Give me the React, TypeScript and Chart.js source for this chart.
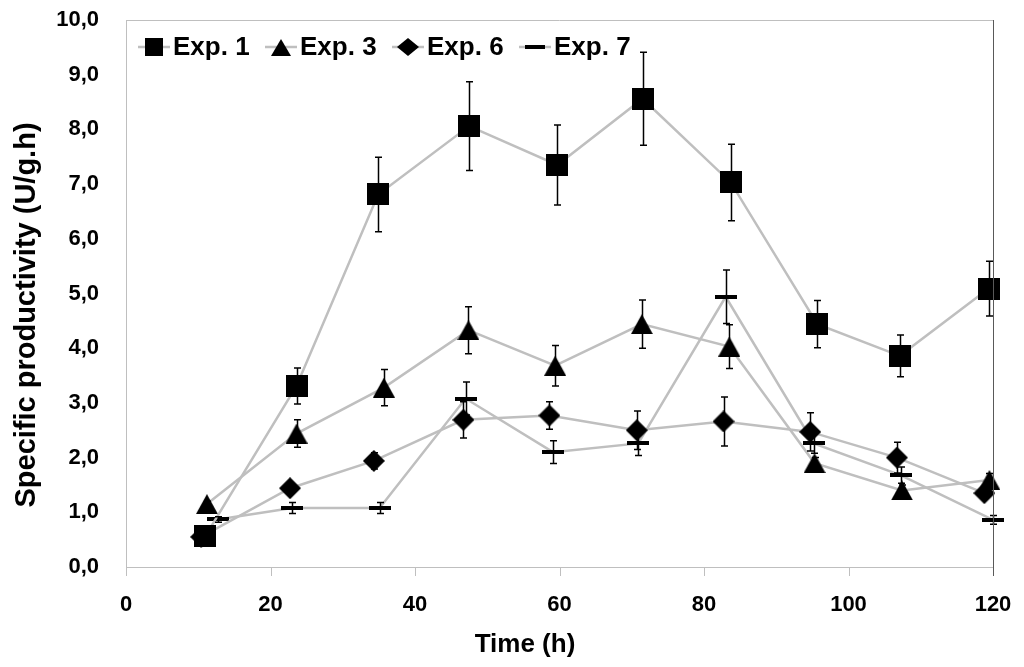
import React, { useEffect, useRef } from "react";
import { Chart, registerables } from "chart.js";

Chart.register(...registerables);

// ---- Data ----
const seriesLabels = ["Exp. 1", "Exp. 3", "Exp. 6", "Exp. 7"];

const exp1Time = [11.0, 23.6, 34.9, 47.5, 59.7, 71.5, 83.7, 95.7, 107.1, 119.4];
const exp1Values = [0.57, 3.31, 6.81, 8.06, 7.35, 8.56, 7.03, 4.44, 3.86, 5.09];
const exp1Errors = [0.05, 0.33, 0.68, 0.81, 0.73, 0.85, 0.7, 0.43, 0.38, 0.5];

const exp3Time = [11.2, 23.6, 35.7, 47.4, 59.4, 71.4, 83.5, 95.3, 107.4, 119.5];
const exp3Values = [1.15, 2.44, 3.28, 4.33, 3.68, 4.44, 4.03, 1.9, 1.4, 1.59];
const exp3Errors = [0.05, 0.25, 0.33, 0.43, 0.37, 0.44, 0.4, 0.1, 0.1, 0.12];

const exp6Time = [10.4, 22.7, 34.3, 46.7, 58.6, 70.7, 82.7, 94.7, 106.7, 118.8];
const exp6Values = [0.55, 1.44, 1.94, 2.69, 2.77, 2.5, 2.66, 2.47, 2.0, 1.35];
const exp6Errors = [0.15, 0.08, 0.15, 0.33, 0.25, 0.35, 0.45, 0.35, 0.28, 0.1];

const exp7Time = [12.7, 23.0, 35.1, 47.0, 59.1, 70.9, 83.0, 95.2, 107.2, 120.0];
const exp7Values = [0.87, 1.08, 1.08, 3.08, 2.1, 2.26, 4.94, 2.26, 1.68, 0.86];
const exp7Errors = [0.05, 0.1, 0.1, 0.3, 0.21, 0.22, 0.49, 0.18, 0.15, 0.08];

const xTickMin = 0;
const xTickMax = 120;
const xTickStep = 20;
const yTickMin = 0;
const yTickMax = 10;
const yTickStep = 1;

const xTitle = "Time (h)";
const yTitle = "Specific productivity (U/g.h)";

const FONT = "'Liberation Sans', Arial, sans-serif";
const LINE_COLOR = "#bfbfbf";
const CLEAR = "rgba(0,0,0,0)";

type Kind = "square" | "triangle" | "diamond" | "dash";

function makeMarker(kind: Kind, w: number, h: number): HTMLCanvasElement {
  const c = document.createElement("canvas");
  c.width = w;
  c.height = h;
  const ctx = c.getContext("2d")!;
  ctx.fillStyle = "#000";
  ctx.beginPath();
  if (kind === "triangle") {
    ctx.moveTo(w / 2, 0);
    ctx.lineTo(w, h);
    ctx.lineTo(0, h);
    ctx.closePath();
  } else if (kind === "diamond") {
    ctx.moveTo(w / 2, 0);
    ctx.lineTo(w, h / 2);
    ctx.lineTo(w / 2, h);
    ctx.lineTo(0, h / 2);
    ctx.closePath();
  } else {
    ctx.rect(0, 0, w, h);
  }
  ctx.fill();
  return c;
}

function zip(xs: number[], ys: number[]) {
  return xs.map((x, i) => ({ x, y: ys[i] }));
}

export default function App() {
  const ref = useRef<HTMLCanvasElement | null>(null);

  useEffect(() => {
    document.body.style.margin = "0";
    const canvas = ref.current;
    if (!canvas) return;

    const markers = [
      makeMarker("square", 22, 22),
      makeMarker("triangle", 22, 20),
      makeMarker("diamond", 22, 22),
      makeMarker("dash", 22, 4),
    ];
    const legendMarkers = [
      makeMarker("square", 18, 18),
      makeMarker("triangle", 20, 17),
      makeMarker("diamond", 22, 18),
      makeMarker("dash", 20, 4),
    ];
    const legendStarts = [138, 265, 392, 519];

    const times = [exp1Time, exp3Time, exp6Time, exp7Time];
    const values = [exp1Values, exp3Values, exp6Values, exp7Values];
    const errors = [exp1Errors, exp3Errors, exp6Errors, exp7Errors];

    const datasets = seriesLabels.map((label, i) => ({
      label,
      data: zip(times[i], values[i]),
      errors: errors[i],
      showLine: true,
      borderColor: LINE_COLOR,
      borderWidth: 2.5,
      backgroundColor: "#000",
      pointStyle: markers[i],
      pointRadius: 11,
      pointHoverRadius: 11,
      clip: false as any,
      tension: 0,
    }));

    const extras = {
      id: "extras",
      afterDatasetsDraw(chart: any) {
        const ctx = chart.ctx as CanvasRenderingContext2D;
        const { left, right, top, bottom } = chart.chartArea;
        const yScale = chart.scales.y;
        const xScale = chart.scales.x;
        ctx.save();
        // error bars
        ctx.strokeStyle = "#000";
        ctx.lineWidth = 1.5;
        chart.data.datasets.forEach((ds: any, i: number) => {
          const meta = chart.getDatasetMeta(i);
          meta.data.forEach((pt: any, j: number) => {
            const v = ds.data[j].y;
            const e = ds.errors[j];
            const yT = yScale.getPixelForValue(v + e);
            const yB = yScale.getPixelForValue(v - e);
            const x = Math.round(pt.x) + 0.5;
            ctx.beginPath();
            ctx.moveTo(x, yT);
            ctx.lineTo(x, yB);
            ctx.moveTo(x - 3.5, yT);
            ctx.lineTo(x + 3.5, yT);
            ctx.moveTo(x - 3.5, yB);
            ctx.lineTo(x + 3.5, yB);
            ctx.stroke();
          });
        });
        // x tick marks
        ctx.strokeStyle = LINE_COLOR;
        ctx.lineWidth = 1;
        xScale.ticks.forEach((t: any) => {
          const px = Math.round(xScale.getPixelForValue(t.value)) + 0.5;
          ctx.beginPath();
          ctx.moveTo(px, bottom);
          ctx.lineTo(px, bottom + 9);
          ctx.stroke();
        });
        // top border
        ctx.beginPath();
        ctx.moveTo(left, Math.round(top) + 0.5);
        ctx.lineTo(right, Math.round(top) + 0.5);
        ctx.stroke();
        // right border
        ctx.strokeStyle = "#595959";
        ctx.beginPath();
        ctx.moveTo(Math.round(right) + 0.5, top);
        ctx.lineTo(Math.round(right) + 0.5, bottom + 9);
        ctx.stroke();
        ctx.restore();
      },
      afterDraw(chart: any) {
        const ctx = chart.ctx as CanvasRenderingContext2D;
        ctx.save();
        ctx.fillStyle = "#000";
        // axis titles
        ctx.textAlign = "center";
        ctx.textBaseline = "middle";
        ctx.font = `bold 26px ${FONT}`;
        ctx.fillText(xTitle, 525, 645);
        ctx.save();
        ctx.translate(27, 315);
        ctx.rotate(-Math.PI / 2);
        ctx.font = `bold 29px ${FONT}`;
        ctx.fillText(yTitle, 0, 0);
        ctx.restore();
        // legend
        ctx.font = `bold 26px ${FONT}`;
        ctx.textBaseline = "middle";
        ctx.textAlign = "left";
        const y = 47;
        chart.data.datasets.forEach((ds: any, i: number) => {
          const x = legendStarts[i];
          ctx.strokeStyle = LINE_COLOR;
          ctx.lineWidth = 2.5;
          ctx.beginPath();
          ctx.moveTo(x, y);
          ctx.lineTo(x + 32, y);
          ctx.stroke();
          const m = legendMarkers[i];
          ctx.drawImage(m, Math.round(x + 16 - m.width / 2), Math.round(y - m.height / 2));
          ctx.fillText(ds.label, x + 35, y + 1);
        });
        ctx.restore();
      },
    };

    const chart = new Chart(canvas, {
      type: "scatter",
      data: { datasets: datasets as any },
      options: {
        responsive: false,
        animation: false,
        layout: { padding: { top: 20, right: 31, left: 0, bottom: 0 } },
        plugins: {
          legend: { display: false },
          tooltip: { enabled: false },
        },
        scales: {
          x: {
            type: "linear",
            min: xTickMin,
            max: xTickMax,
            afterFit: (s: any) => {
              s.height = 100;
            },
            ticks: {
              stepSize: xTickStep,
              color: "#000",
              font: { family: FONT, size: 22, weight: "bold" },
              padding: 0,
              maxRotation: 0,
            },
            grid: {
              display: true,
              drawOnChartArea: false,
              drawTicks: true,
              tickLength: 25,
              color: CLEAR,
              tickColor: CLEAR,
            },
            border: { display: true, color: LINE_COLOR, width: 1 },
            title: { display: false },
          },
          y: {
            type: "linear",
            min: yTickMin,
            max: yTickMax,
            afterFit: (s: any) => {
              s.width = 126;
            },
            ticks: {
              stepSize: yTickStep,
              color: "#000",
              font: { family: FONT, size: 22, weight: "bold" },
              padding: 0,
              callback: (v: any) => Number(v).toFixed(1).replace(".", ","),
            },
            grid: {
              display: true,
              drawOnChartArea: false,
              drawTicks: true,
              tickLength: 27,
              color: CLEAR,
              tickColor: CLEAR,
            },
            border: { display: true, color: LINE_COLOR, width: 1 },
            title: { display: false },
          },
        },
      },
      plugins: [extras],
    });

    return () => chart.destroy();
  }, []);

  return (
    <div style={{ width: 1024, height: 667 }}>
      <canvas ref={ref} width={1024} height={667} style={{ display: "block" }} />
    </div>
  );
}
